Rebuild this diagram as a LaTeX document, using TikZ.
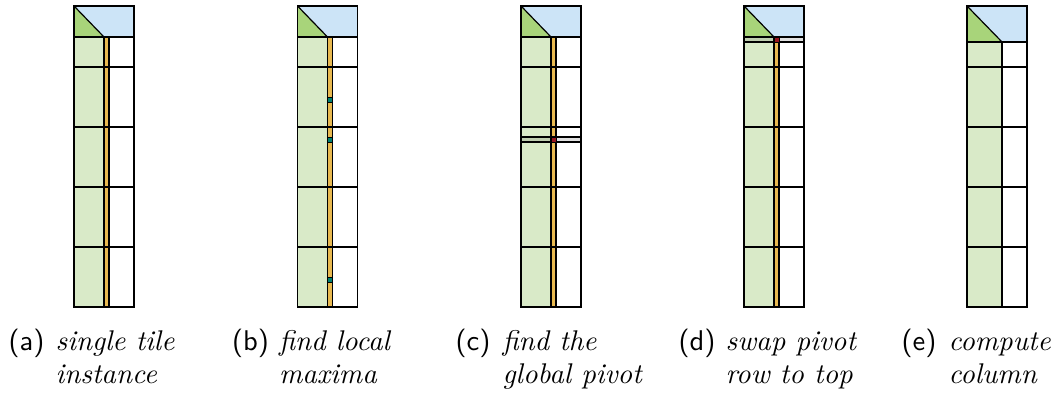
\documentclass[tikz,border=0pt]{standalone}
\usepackage{xcolor}
\usepackage{tikz}
\usetikzlibrary{positioning}
\definecolor{diagblue}{RGB}{204,228,247}
\definecolor{diaggreen}{RGB}{168,212,122}
\definecolor{donegreen}{RGB}{217,234,200}
\definecolor{colorange}{RGB}{232,185,80}
\definecolor{markteal}{RGB}{0,128,112}
\definecolor{pivred}{RGB}{150,20,30}

\begin{document}
\begin{tikzpicture}[x=0.3333pt, y=-0.3333pt, line width=0.4pt,
    upper/.style={fill=diagblue},
    diag/.style={fill=diaggreen},
    done/.style={fill=donegreen},
    strip/.style={draw=black, fill=colorange},
    marker/.style={draw=black, line width=0.3pt, fill=#1},
    band/.style={draw=black, fill=black, fill opacity=0.12},
    sublabel/.style={anchor=base west, inner sep=0pt, font=\sffamily\fontsize{9.5}{11}\selectfont},
    subtext/.style={anchor=base west, inner sep=0pt, align=left, font=\itshape\fontsize{9.5}{11}\selectfont},
]
\useasboundingbox (0,0) rectangle (1054,395);

% (a) one tile
\begin{scope}[shift={(74,0)}]
\path[upper] (0,6) rectangle (60,37);
\path[diag] (0,6) -- (30,37) -- (0,37) -- cycle;
\path[done] (0,37) rectangle (30,307);
\draw[strip] (30,37) rectangle (35,307);
\foreach \y in {37,67,127,187,247} \draw (0,\y) -- (60,\y);
\draw (0,6) -- (30,37);
\draw (0,6) rectangle (60,307);
\end{scope}

% (b) local maxima
\begin{scope}[shift={(297.5,0)}]
\path[upper] (0,6) rectangle (60,37);
\path[diag] (0,6) -- (30,37) -- (0,37) -- cycle;
\path[done] (0,37) rectangle (30,307);
\draw[strip] (30,37) rectangle (35,307);
\foreach \y in {37,67,127,187,247} \draw (0,\y) -- (60,\y);
\foreach \y in {100,140,280} \draw[marker=markteal] (30,\y-2.5) rectangle (35,\y+2.5);
\draw (0,6) -- (30,37);
\draw (0,6) rectangle (60,307);
\end{scope}

% (c) global pivot
\begin{scope}[shift={(521,0)}]
\path[upper] (0,6) rectangle (60,37);
\path[diag] (0,6) -- (30,37) -- (0,37) -- cycle;
\path[done] (0,37) rectangle (30,307);
\draw[strip] (30,37) rectangle (35,307);
\foreach \y in {37,67,127,187,247} \draw (0,\y) -- (60,\y);
\draw[band] (0,137) rectangle (60,142);
\draw[marker=pivred] (30,137) rectangle (35,142);
\draw (0,6) -- (30,37);
\draw (0,6) rectangle (60,307);
\end{scope}

% (d) swap
\begin{scope}[shift={(744,0)}]
\path[upper] (0,6) rectangle (60,37);
\path[diag] (0,6) -- (30,37) -- (0,37) -- cycle;
\path[done] (0,37) rectangle (30,307);
\draw[strip] (30,37) rectangle (35,307);
\foreach \y in {37,67,127,187,247} \draw (0,\y) -- (60,\y);
\draw[band] (0,37) rectangle (60,42);
\draw[marker=pivred] (30,37) rectangle (35,42);
\draw (0,6) -- (30,37);
\draw (0,6) rectangle (60,307);
\end{scope}

% (e) column done
\begin{scope}[shift={(967,0)}]
\path[upper] (0,6) rectangle (60,42);
\path[diag] (0,6) -- (35,42) -- (0,42) -- cycle;
\path[done] (0,42) rectangle (35,307);
\draw (35,42) -- (35,307);
\foreach \y in {42,67,127,187,247} \draw (0,\y) -- (60,\y);
\draw (0,6) -- (35,42);
\draw (0,6) rectangle (60,307);
\end{scope}

\node[sublabel] (capa) at (8,350) {(a)};
\node[subtext] (texta) at (55,383) {single tile\\instance};
\node[sublabel] (capb) at (231.5,350) {(b)};
\node[subtext] (textb) at (278.5,383) {find local\\maxima};
\node[sublabel] (capc) at (455,350) {(c)};
\node[subtext] (textc) at (502,383) {find the\\global pivot};
\node[sublabel] (capd) at (678,350) {(d)};
\node[subtext] (textd) at (725,383) {swap pivot\\row to top};
\node[sublabel] (cape) at (901,350) {(e)};
\node[subtext] (texte) at (948,383) {compute\\column};

\end{tikzpicture}
\end{document}
